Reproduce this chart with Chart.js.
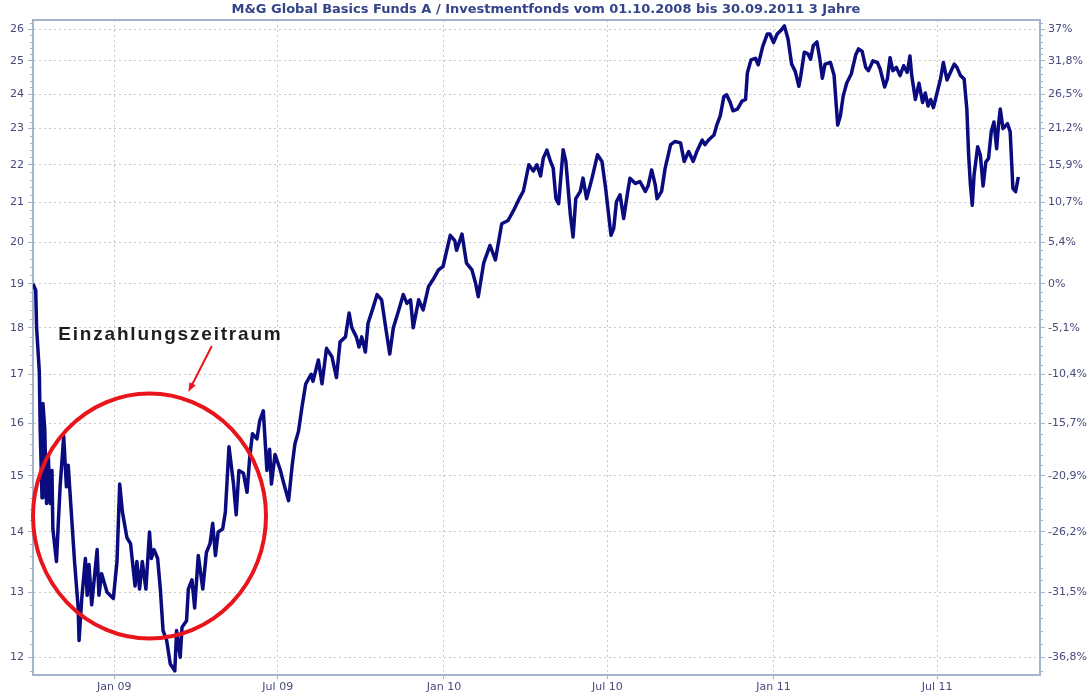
<!DOCTYPE html>
<html>
<head>
<meta charset="utf-8">
<title>M&amp;G Global Basics Funds A</title>
<script src="https://cdn.jsdelivr.net/npm/chart.js@4.4.1/dist/chart.umd.min.js"></script>
<style>
  html, body { margin: 0; padding: 0; background: #fff; }
  #wrap { width: 1092px; height: 697px; }
</style>
</head>
<body>
<div id="wrap"><canvas id="chart" width="1092" height="697"></canvas></div>
<script>
// days since 01.10.2008 and fund price
const days = [
  2, 5, 6, 9, 10, 12, 13, 15, 17, 19, 21, 23, 24, 28, 30, 32, 36, 39, 41, 45,
  48, 52, 53, 56, 60, 62, 64, 67, 73, 75, 78, 84, 91, 95, 98, 101, 106, 110, 115, 117,
  120, 123, 127, 131, 133, 136, 140, 143, 146, 150, 154, 159, 161, 165, 167, 172, 174, 178, 181, 185,
  190, 194, 198, 201, 204, 207, 212, 215, 219, 224, 227, 230, 235, 239, 242, 245, 250, 253, 257, 261,
  264, 266, 270, 276, 279, 285, 289, 292, 296, 300, 304, 310, 312, 318, 322, 327, 333, 338, 342, 348,
  352, 355, 360, 363, 366, 370, 373, 379, 383, 388, 393, 397, 401, 407, 412, 416, 420, 423, 429, 434,
  440, 445, 451, 456, 464, 469, 471, 477, 482, 488, 492, 495, 501, 508, 514, 521, 528, 534, 540, 545,
  551, 556, 560, 564, 567, 571, 575, 578, 581, 584, 589, 592, 597, 600, 603, 608, 611, 615, 621, 627,
  632, 636, 639, 642, 645, 648, 652, 656, 660, 663, 669, 674, 680, 683, 687, 691, 693, 698, 702, 708,
  713, 719, 723, 728, 733, 737, 743, 746, 750, 756, 759, 763, 767, 770, 774, 777, 782, 787, 791, 793,
  797, 802, 805, 810, 815, 818, 822, 826, 830, 834, 838, 842, 846, 850, 852, 856, 860, 863, 866, 870,
  873, 876, 879, 885, 889, 893, 896, 899, 903, 908, 913, 916, 920, 924, 927, 932, 937, 940, 945, 948,
  951, 954, 958, 962, 966, 970, 973, 975, 979, 983, 987, 990, 993, 996, 999, 1003, 1007, 1010, 1014, 1018,
  1022, 1025, 1029, 1033, 1036, 1038, 1040, 1042, 1044, 1048, 1051, 1054, 1057, 1060, 1063, 1066, 1069, 1071, 1073, 1076,
  1081, 1084, 1087, 1090, 1093
];
const prices = [
  19.0, 18.85, 18.0, 17.05, 15.85, 14.6, 16.4, 15.9, 14.5, 15.35, 14.5, 15.1, 14.05, 13.5, 14.15, 14.8, 15.75, 14.8, 15.2, 14.2,
  13.5, 12.75, 12.25, 12.9, 13.55, 12.95, 13.45, 12.8, 13.7, 12.95, 13.3, 13.0, 12.9, 13.5, 14.85, 14.35, 13.9, 13.8, 13.1, 13.5,
  13.05, 13.5, 13.05, 14.0, 13.55, 13.7, 13.55, 13.05, 12.4, 12.25, 11.9, 11.8, 12.4, 12.0, 12.45, 12.55, 13.05, 13.2, 12.75, 13.6,
  13.05, 13.65, 13.8, 14.15, 13.6, 14.0, 14.05, 14.35, 15.55, 14.85, 14.3, 15.1, 15.05, 14.7, 15.35, 15.8, 15.7, 16.05, 16.25, 15.1,
  15.5, 14.85, 15.4, 15.1, 14.9, 14.55, 15.2, 15.6, 15.85, 16.35, 16.8, 17.0, 16.85, 17.3, 16.8, 17.55, 17.37, 16.93, 17.69, 17.8,
  18.33, 18.0, 17.8, 17.58, 17.8, 17.47, 18.1, 18.48, 18.75, 18.63, 17.94, 17.43, 18.0, 18.4, 18.75, 18.55, 18.63, 18.0, 18.63, 18.4,
  18.94, 19.1, 19.33, 19.41, 20.17, 20.04, 19.8, 20.2, 19.49, 19.33, 19.02, 18.7, 19.49, 19.92, 19.57, 20.46, 20.54, 20.79, 21.08, 21.3,
  22.0, 21.83, 22.0, 21.7, 22.18, 22.4, 22.09, 21.91, 21.1, 20.97, 22.41, 22.09, 20.68, 20.13, 21.1, 21.29, 21.64, 21.1, 21.64, 22.27,
  22.09, 21.38, 20.76, 20.17, 20.34, 21.02, 21.2, 20.59, 21.2, 21.64, 21.5, 21.55, 21.29, 21.43, 21.86, 21.46, 21.1, 21.29, 21.91, 22.55,
  22.64, 22.6, 22.09, 22.36, 22.09, 22.36, 22.68, 22.55, 22.68, 22.82, 23.09, 23.37, 23.93, 23.98, 23.75, 23.51, 23.56, 23.79, 23.84, 24.63,
  25.03, 25.08, 24.88, 25.45, 25.84, 25.84, 25.57, 25.84, 25.95, 26.1, 25.68, 24.9, 24.68, 24.23, 24.52, 25.27, 25.22, 25.05, 25.48, 25.59,
  25.1, 24.47, 24.9, 24.95, 24.56, 23.1, 23.37, 23.93, 24.33, 24.6, 25.19, 25.37, 25.3, 24.8, 24.7, 25.0, 24.95, 24.75, 24.21, 24.45,
  25.1, 24.7, 24.8, 24.55, 24.85, 24.65, 25.15, 24.55, 23.84, 24.32, 23.75, 24.03, 23.65, 23.84, 23.6, 24.03, 24.47, 24.95, 24.42, 24.66,
  24.9, 24.8, 24.55, 24.45, 23.56, 22.26, 21.45, 20.93, 21.72, 22.49, 22.26, 21.43, 22.07, 22.17, 22.91, 23.19, 22.44, 23.09, 23.56, 23.0,
  23.14, 22.91, 21.37, 21.28, 21.67
];

const yTicks = [12, 13, 14, 15, 16, 17, 18, 19, 20, 21, 22, 23, 24, 25, 26];
const pctLabels = ['-36,8%', '-31,5%', '-26,2%', '-20,9%', '-15,7%', '-10,4%', '-5,1%', '0%',
  '5,4%', '10,7%', '15,9%', '21,2%', '26,5%', '31,8%', '37%'];
const xTickDates = ['2009-01-01', '2009-07-01', '2010-01-01', '2010-07-01', '2011-01-01', '2011-07-01'];
const xTickLabels = ['Jan 09', 'Jul 09', 'Jan 10', 'Jul 10', 'Jan 11', 'Jul 11'];

const startMs = Date.UTC(2008, 9, 1);
const toDay = s => {
  const p = s.split('-').map(Number);
  return Math.round((Date.UTC(p[0], p[1] - 1, p[2]) - startMs) / 86400000);
};
const xTickDays = xTickDates.map(toDay);

// hand-drawn note on the original picture, in data units
const note = {
  text: 'Einzahlungszeitraum', day: 30, value: 17.73,
  arrowFrom: { day: 200, value: 17.6 }, arrowTo: { day: 174, value: 16.63 },
  ring: { fromDay: 2, toDay: 260, low: 12.28, high: 16.6 }
};

const tickFont = { family: 'DejaVu Sans', size: 11 };
const tickColor = '#464a7c';
const frameColor = '#a3b4cb';

const framePlugin = {
  id: 'frame',
  afterDraw(chart) {
    const { ctx, chartArea: a, scales } = chart;
    const y = scales.y;
    ctx.save();
    // top border
    ctx.strokeStyle = frameColor;
    ctx.lineWidth = 2;
    ctx.beginPath();
    ctx.moveTo(a.left - 1, a.top);
    ctx.lineTo(a.right + 1, a.top);
    ctx.stroke();
    // minor ticks on both value axes
    ctx.lineWidth = 1;
    for (let v = 11.8; v < 26.3; v += 0.2) {
      if (Math.abs(v - Math.round(v)) < 0.01) continue;
      const py = Math.round(y.getPixelForValue(v)) + 0.5;
      ctx.beginPath();
      ctx.moveTo(a.left - 3, py);
      ctx.lineTo(a.left, py);
      ctx.moveTo(a.right, py);
      ctx.lineTo(a.right + 3, py);
      ctx.stroke();
    }
    ctx.restore();
  }
};

const notePlugin = {
  id: 'note',
  afterDraw(chart) {
    const { ctx, scales: { x, y } } = chart;
    ctx.save();
    // ring
    const r = note.ring;
    const x1 = x.getPixelForValue(r.fromDay), x2 = x.getPixelForValue(r.toDay);
    const y1 = y.getPixelForValue(r.high), y2 = y.getPixelForValue(r.low);
    ctx.strokeStyle = '#e8161c';
    ctx.lineWidth = 4;
    ctx.beginPath();
    ctx.ellipse((x1 + x2) / 2, (y1 + y2) / 2, (x2 - x1) / 2, (y2 - y1) / 2, 0, 0, Math.PI * 2);
    ctx.stroke();
    // arrow
    const ax1 = x.getPixelForValue(note.arrowFrom.day), ay1 = y.getPixelForValue(note.arrowFrom.value);
    const ax2 = x.getPixelForValue(note.arrowTo.day), ay2 = y.getPixelForValue(note.arrowTo.value);
    const ang = Math.atan2(ay2 - ay1, ax2 - ax1);
    ctx.lineWidth = 2;
    ctx.beginPath();
    ctx.moveTo(ax1, ay1);
    ctx.lineTo(ax2 - 6 * Math.cos(ang), ay2 - 6 * Math.sin(ang));
    ctx.stroke();
    ctx.fillStyle = '#e8161c';
    ctx.beginPath();
    ctx.moveTo(ax2, ay2);
    ctx.lineTo(ax2 - 10 * Math.cos(ang - 0.35), ay2 - 10 * Math.sin(ang - 0.35));
    ctx.lineTo(ax2 - 10 * Math.cos(ang + 0.35), ay2 - 10 * Math.sin(ang + 0.35));
    ctx.closePath();
    ctx.fill();
    // label
    ctx.fillStyle = '#1e1e1e';
    ctx.font = 'bold 19px "Liberation Sans", Arial, sans-serif';
    ctx.letterSpacing = '1.8px';
    ctx.textBaseline = 'alphabetic';
    ctx.fillText(note.text, x.getPixelForValue(note.day), y.getPixelForValue(note.value));
    ctx.restore();
  }
};

const ctx = document.getElementById('chart').getContext('2d');
const chart = new Chart(ctx, {
  type: 'line',
  data: {
    datasets: [{
      data: days.map((d, i) => ({ x: d, y: prices[i] })),
      borderColor: '#0b0b80',
      borderWidth: 3.5,
      borderJoinStyle: 'round',
      pointRadius: 0,
      tension: 0,
      fill: false
    }]
  },
  options: {
    responsive: false,
    animation: false,
    layout: { padding: 0 },
    plugins: {
      legend: { display: false },
      tooltip: { enabled: false },
      title: {
        display: true,
        text: 'M&G Global Basics Funds A / Investmentfonds vom 01.10.2008 bis 30.09.2011 3 Jahre',
        color: '#33448a',
        font: { family: 'DejaVu Sans', size: 13, weight: 'bold' },
        padding: { top: 2, bottom: 2.4 }
      }
    },
    scales: {
      x: {
        type: 'linear',
        min: 2,
        max: 1117,
        afterBuildTicks: s => { s.ticks = xTickDays.map(v => ({ value: v })); },
        afterFit: s => { s.height = 22; },
        ticks: {
          callback: (v, i) => xTickLabels[i],
          autoSkip: false, maxRotation: 0, padding: 2,
          color: tickColor, font: tickFont
        },
        grid: { color: '#c8c8c8', tickColor: frameColor, tickLength: 4 },
        border: { display: true, color: frameColor, width: 2, dash: [2, 3] }
      },
      y: {
        type: 'logarithmic',
        position: 'left',
        min: 11.74,
        max: 26.29,
        afterBuildTicks: s => { s.ticks = yTicks.map(v => ({ value: v })); },
        afterFit: s => { s.width = 33; },
        ticks: {
          callback: v => String(v),
          autoSkip: false, padding: 4,
          color: tickColor, font: tickFont
        },
        grid: { color: '#c8c8c8', tickColor: frameColor, tickLength: 5 },
        border: { display: true, color: frameColor, width: 2, dash: [2, 3] }
      },
      y2: {
        type: 'logarithmic',
        position: 'right',
        min: 11.74,
        max: 26.29,
        afterBuildTicks: s => { s.ticks = yTicks.map(v => ({ value: v })); },
        afterFit: s => { s.width = 52; },
        ticks: {
          callback: (v, i) => pctLabels[i],
          autoSkip: false, padding: 3,
          color: tickColor, font: tickFont
        },
        grid: { drawOnChartArea: false, tickColor: frameColor, tickLength: 5 },
        border: { display: true, color: frameColor, width: 2 }
      }
    }
  },
  plugins: [framePlugin, notePlugin]
});
</script>
</body>
</html>
